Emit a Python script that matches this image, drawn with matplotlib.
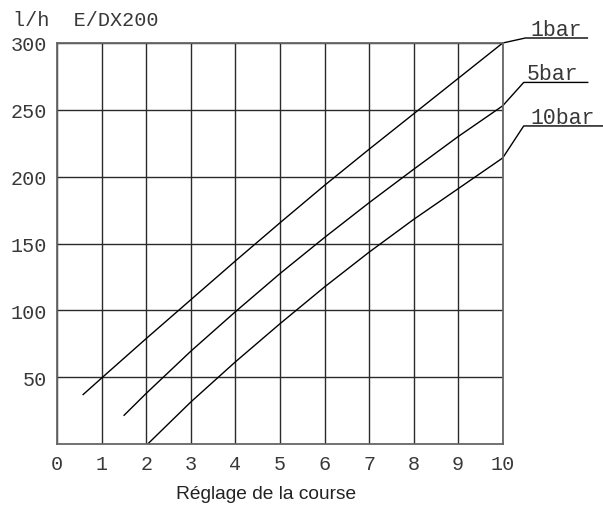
import matplotlib
matplotlib.use("Agg")
import matplotlib.pyplot as plt

# valeurs (débit l/h selon réglage de la course)
x_1bar = [0.58, 1, 2, 3, 4, 5, 6, 7, 8, 9, 10]
y_1bar = [37, 49.5, 79, 108, 137, 165.5, 193.5, 220.5, 247, 273.5, 300]
x_5bar = [1.5, 2, 3, 4, 5, 6, 7, 8, 9, 10]
y_5bar = [21.5, 38, 69.5, 99, 127.5, 154.5, 180.5, 205.5, 230, 253]
x_10bar = [2.03, 3, 4, 5, 6, 7, 8, 9, 10]
y_10bar = [0, 31.5, 61.5, 90, 117.5, 143.5, 168, 191, 214]

series_labels = ["1bar", "5bar", "10bar"]
x_ticks = list(range(0, 11))
y_ticks = [50, 100, 150, 200, 250, 300]

CAD_FONT = "Liberation Mono"
INK = "#383838"

fig = plt.figure(figsize=(6.03, 5.10), dpi=100)
ax = fig.add_axes([57.3 / 603, 65 / 510, 445.4 / 603, 401 / 510])

ax.set_xlim(0, 10)
ax.set_ylim(0, 300)
ax.set_xticks(x_ticks)
ax.set_yticks(y_ticks)
ax.grid(True, color="#2a2a2a", linewidth=1.0)
ax.set_axisbelow(True)
ax.tick_params(length=0, pad=7.5, labelcolor=INK)
for lab in ax.get_xticklabels() + ax.get_yticklabels():
    lab.set_fontfamily(CAD_FONT)
    lab.set_fontsize(14.5)
for sp in ax.spines.values():
    sp.set_color("#666666")
    sp.set_linewidth(1.3)

xs = [x_1bar, x_5bar, x_10bar]
ys = [y_1bar, y_5bar, y_10bar]
# décalages des repères (pixels): coude, longueur du trait, position du texte
knee = [(22.7, 5), (21, 23.4), (21, 32)]
under_len = [62, 64, 80]
text_dx = [5, 3, 7]

inv = ax.transData.inverted()
for xv, yv, lab, (kx, ky), L, tdx in zip(xs, ys, series_labels, knee, under_len, text_dx):
    ax.plot(xv, yv, color="black", linewidth=1.0)
    px, py = ax.transData.transform((xv[-1], yv[-1]))
    k = inv.transform((px + kx, py + ky))
    e = inv.transform((px + kx + L, py + ky))
    t = inv.transform((px + kx + tdx, py + ky + 3))
    ax.plot([xv[-1], k[0], e[0]], [yv[-1], k[1], e[1]], color="black",
            linewidth=1.0, clip_on=False)
    ax.text(t[0], t[1], lab, fontfamily=CAD_FONT, fontsize=15.5, color=INK,
            ha="left", va="baseline", clip_on=False)

fig.text(13 / 603, 1 - 21 / 510, "l/h  E/DX200", fontfamily=CAD_FONT,
         fontsize=14.5, color=INK, ha="left", va="center")
fig.text(266 / 603, 1 - 495 / 510, "Réglage de la course",
         fontfamily="Liberation Sans", fontsize=13.8, color="#222222",
         ha="center", va="center")

fig.savefig("out.png", dpi=100)
